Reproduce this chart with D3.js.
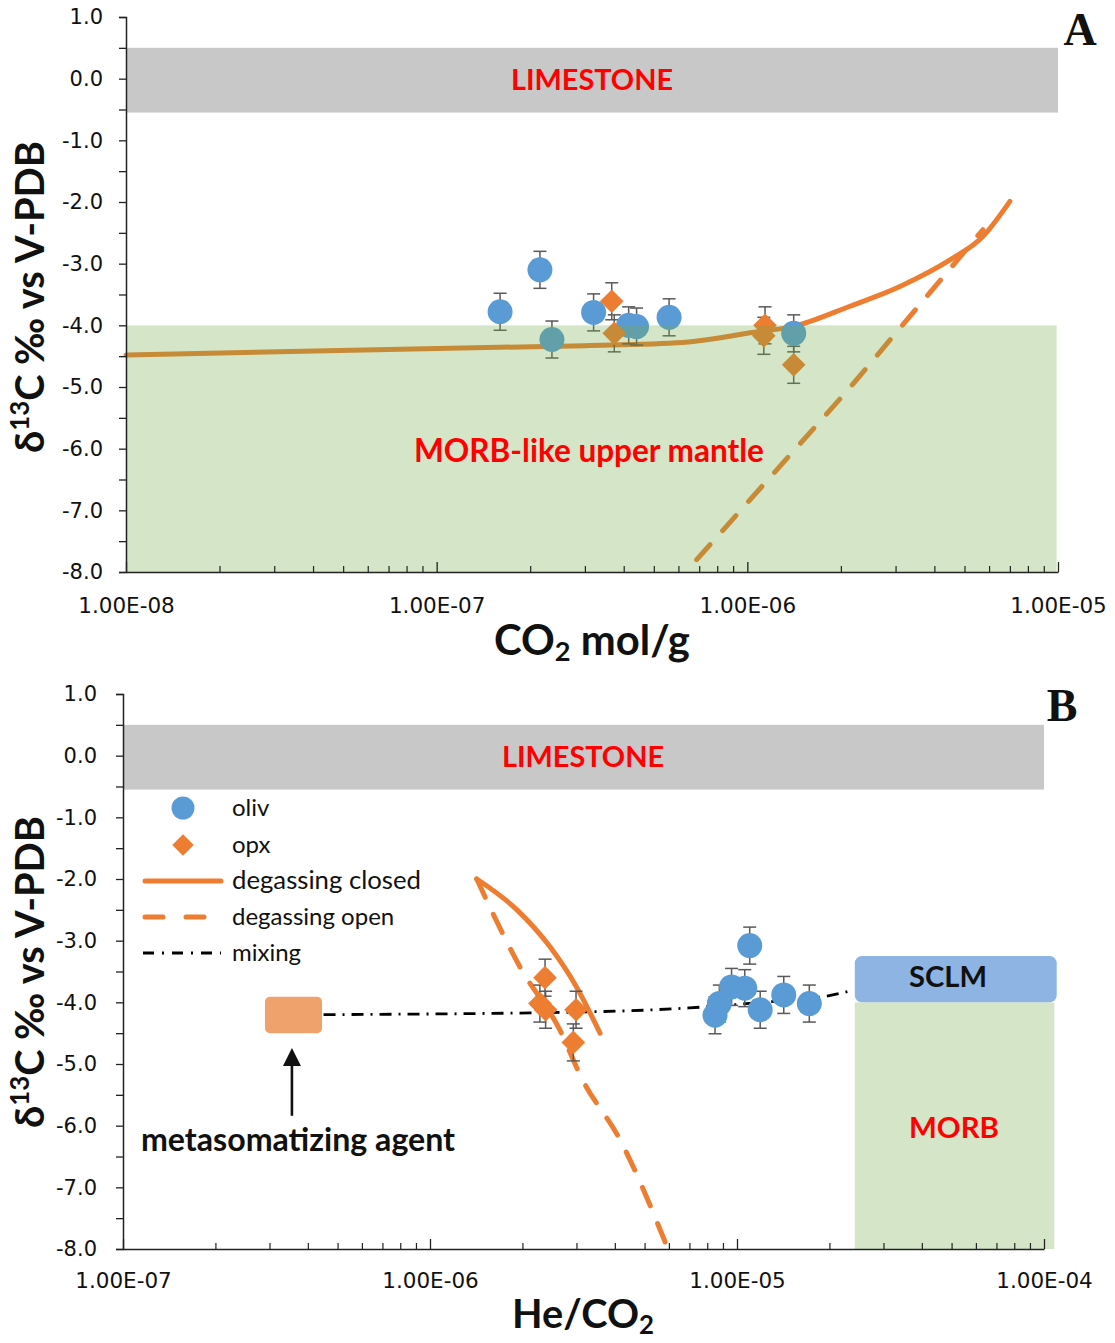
<!DOCTYPE html>
<html><head><meta charset="utf-8">
<script src="https://cdn.jsdelivr.net/npm/d3@7"></script>
<style>body{margin:0;background:#fff}</style>
</head><body>
<svg id="c" width="1115" height="1343" xmlns="http://www.w3.org/2000/svg"></svg>
<script>
// ---------- DATA ----------
const yTickValues = [1, 0, -1, -2, -3, -4, -5, -6, -7, -8];
const xTickLabelsA = [1e-8, 1e-7, 1e-6, 1e-5];
const xTickLabelsB = [1e-7, 1e-6, 1e-5, 1e-4];

// Panel A: CO2 (mol/g) vs d13C
const olivA_co2 = [1.6e-7, 2.15e-7, 2.35e-7, 3.2e-7, 4.15e-7, 4.4e-7, 5.6e-7, 1.41e-6];
const olivA_d13C = [-3.78, -3.10, -4.23, -3.79, -4.00, -4.02, -3.87, -4.13];
const olivA_err = [0.3, 0.3, 0.3, 0.3, 0.3, 0.3, 0.3, 0.3];
const opxA_co2 = [3.66e-7, 3.73e-7, 1.14e-6, 1.13e-6, 1.41e-6];
const opxA_d13C = [-3.61, -4.13, -4.00, -4.17, -4.64];
const opxA_err = [0.3, 0.3, 0.3, 0.3, 0.3];
const closedA_co2 = [1e-8, 1.1e-7, 3e-7, 6.2e-7, 8e-7, 1.02e-6, 1.4e-6, 2.14e-6, 3.1e-6, 4.49e-6, 5.73e-6, 7.0e-6];
const closedA_d13C = [-4.48, -4.37, -4.33, -4.28, -4.21, -4.12, -4.02, -3.69, -3.37, -2.94, -2.56, -1.99];
const openA_co2 = [6.87e-7, 2.09e-6, 5.73e-6];
const openA_d13C = [-7.80, -5.07, -2.45];

// Panel B: He/CO2 vs d13C
const olivB_he = [1.10e-5, 9.6e-6, 1.06e-5, 8.76e-6, 8.48e-6, 1.19e-5, 1.42e-5, 1.72e-5];
const olivB_d13C = [-3.08, -3.75, -3.77, -4.02, -4.21, -4.12, -3.88, -4.02];
const olivB_err = [0.3, 0.3, 0.3, 0.3, 0.3, 0.3, 0.3, 0.3];
const opxB_he = [2.37e-6, 2.28e-6, 2.38e-6, 2.99e-6, 2.93e-6];
const opxB_d13C = [-3.60, -4.02, -4.12, -4.12, -4.65];
const opxB_err = [0.3, 0.3, 0.3, 0.3, 0.3];
const closedB_he = [1.42e-6, 1.92e-6, 2.46e-6, 3.0e-6, 3.58e-6];
const closedB_d13C = [-2.0, -2.5, -3.1, -3.75, -4.5];
const openB_he = [1.42e-6, 1.61e-6, 1.96e-6, 2.65e-6, 3.12e-6, 4.16e-6, 5.96e-6];
const openB_d13C = [-2.0, -2.58, -3.42, -4.45, -5.23, -6.23, -8.0];
const mixB_he = [4.5e-7, 3.6e-6, 7.0e-6, 1.2e-5, 2.0e-5, 2.4e-5];
const mixB_d13C = [-4.2, -4.15, -4.09, -4.0, -3.89, -3.8];

// Fields (ranges)
const limestoneRange = [-0.55, 0.5];
const morbRange = [-8, -4];
const sclmRange = [-4.0, -3.25];
const sclmHe = [2.42e-5, 1.1e-4];
const morbHeB = [2.42e-5, 1.08e-4];
const agentHe = [2.9e-7, 4.45e-7];
const agentD13C = [-4.5, -3.91];

// ---------- STYLE ----------
const BLUE = "#5B9BD5", ORANGE = "#ED7D31", GREY = "#C8C8C8";
const GREEN = "#70AD47", RED = "#FF0000", ERR = "#595959";
const svg = d3.select("#c");

function fit(sel, w) {
  const bb = sel.node().getBBox();
  const fs = parseFloat(sel.attr("font-size"));
  sel.attr("font-size", fs * w / bb.width);
  return sel;
}
function sciFmt(d) {
  const e = Math.round(Math.log10(d));
  return "1.00E" + (e < 0 ? "-" : "+") + String(Math.abs(e)).padStart(2, "0");
}
function minorTicks(lo, hi) {
  const out = [];
  for (let d = lo; d < hi * 0.999; d *= 10) for (let k = 2; k <= 9; k++) out.push(k * d);
  return out;
}

function drawAxes(g, x, y, xLabels, yLabelPad, xLabelPad) {
  const [x0, x1] = x.range();
  const [yb, yt] = y.range();
  const ya = d3.axisLeft(y).tickValues(d3.range(-8, 1.01, 0.5))
    .tickSize(7).tickPadding(yLabelPad)
    .tickFormat(d => Number.isInteger(d) ? d.toFixed(1) : "");
  const yg = g.append("g").attr("transform", `translate(${x0},0)`).call(ya);
  yg.select(".domain").attr("stroke", "#222").attr("stroke-width", 1.5);
  yg.selectAll(".tick line").attr("stroke", "#222").attr("stroke-width", 1.3);
  yg.selectAll("text").attr("font-family", "DejaVu Sans").attr("font-size", 21).attr("fill", "#111");
  const xm = d3.axisBottom(x).tickValues(minorTicks(x.domain()[0], x.domain()[1])).tickSize(-6).tickFormat("");
  const xmg = g.append("g").attr("transform", `translate(0,${yb})`).call(xm);
  xmg.select(".domain").remove();
  xmg.selectAll(".tick line").attr("stroke", "#222").attr("stroke-width", 1.2);
  const xa = d3.axisBottom(x).tickValues(xLabels).tickSize(-10).tickSizeOuter(0).tickPadding(xLabelPad).tickFormat(sciFmt);
  const xg = g.append("g").attr("transform", `translate(0,${yb})`).call(xa);
  xg.select(".domain").attr("stroke", "#222").attr("stroke-width", 1.5);
  xg.selectAll(".tick line").attr("stroke", "#222").attr("stroke-width", 1.3);
  xg.selectAll("text").attr("font-family", "DejaVu Sans").attr("font-size", 21.5).attr("fill", "#111");
}

function errorBars(g, x, y, xs, ys, es) {
  const gg = g.append("g").attr("stroke", ERR).attr("stroke-width", 1.5);
  xs.forEach((xv, i) => {
    const cx = x(xv), t = y(ys[i] + es[i]), b = y(ys[i] - es[i]);
    gg.append("line").attr("x1", cx).attr("x2", cx).attr("y1", t).attr("y2", b);
    gg.append("line").attr("x1", cx - 6.5).attr("x2", cx + 6.5).attr("y1", t).attr("y2", t);
    gg.append("line").attr("x1", cx - 6.5).attr("x2", cx + 6.5).attr("y1", b).attr("y2", b);
  });
}
function circles(g, x, y, xs, ys) {
  g.append("g").selectAll("circle").data(xs).join("circle")
    .attr("cx", d => x(d)).attr("cy", (d, i) => y(ys[i])).attr("r", 12.5).attr("fill", BLUE);
}
const diamondPath = d3.symbol(d3.symbolSquare, 280)();
function diamonds(g, x, y, xs, ys) {
  g.append("g").selectAll("path").data(xs).join("path")
    .attr("d", diamondPath)
    .attr("transform", (d, i) => `translate(${x(d)},${y(ys[i])}) rotate(45)`)
    .attr("fill", ORANGE);
}
function pathLine(g, x, y, xs, ys, opts) {
  const pts = xs.map((v, i) => [v, ys[i]]);
  const line = d3.line().x(d => x(d[0])).y(d => y(d[1])).curve(opts.curve || d3.curveMonotoneX);
  const p = g.append("path").attr("d", line(pts)).attr("fill", "none")
    .attr("stroke", opts.color).attr("stroke-width", opts.width)
    .attr("stroke-linecap", opts.cap || "round");
  if (opts.dash) p.attr("stroke-dasharray", opts.dash);
  return p;
}
function yTitle(g, cx, cy, len) {
  const t = g.append("text").attr("font-family", "Lato").attr("font-weight", "bold")
    .attr("font-size", 32).attr("text-anchor", "middle").attr("fill", "#111")
    .attr("transform", `translate(${cx},${cy}) rotate(-90)`);
  t.append("tspan").text("δ");
  t.append("tspan").attr("baseline-shift", "super").attr("font-size", "65%").text("13");
  t.append("tspan").text("C ‰ vs V-PDB");
  fit(t, len);
}

// ================= PANEL A =================
{
  const g = svg.append("g");
  const x = d3.scaleLog().domain([1e-8, 1e-5]).range([126, 1058]);
  const y = d3.scaleLinear().domain([-8, 1]).range([572, 17]);
  g.append("rect").attr("x", x(1e-8)).attr("width", x(1e-5) - x(1e-8))
    .attr("y", y(limestoneRange[1])).attr("height", y(limestoneRange[0]) - y(limestoneRange[1])).attr("fill", GREY);
  pathLine(g, x, y, closedA_co2, closedA_d13C, { color: ORANGE, width: 5 });
  pathLine(g, x, y, openA_co2, openA_d13C, { color: ORANGE, width: 5, dash: "20,19", curve: d3.curveLinear });
  errorBars(g, x, y, olivA_co2, olivA_d13C, olivA_err);
  errorBars(g, x, y, opxA_co2, opxA_d13C, opxA_err);
  circles(g, x, y, olivA_co2, olivA_d13C);
  diamonds(g, x, y, opxA_co2, opxA_d13C);
  g.append("rect").attr("x", x(1e-8)).attr("width", x(9.9e-6) - x(1e-8))
    .attr("y", y(morbRange[1])).attr("height", y(morbRange[0]) - y(morbRange[1]))
    .attr("fill", GREEN).attr("fill-opacity", 0.3);
  const l1 = g.append("text").attr("x", 592).attr("y", 90).attr("text-anchor", "middle")
    .attr("font-family", "Lato").attr("font-weight", "bold").attr("font-size", 27).attr("fill", RED).text("LIMESTONE");
  fit(l1, 162);
  const l2 = g.append("text").attr("x", 589).attr("y", 462).attr("text-anchor", "middle")
    .attr("font-family", "Lato").attr("font-weight", "bold").attr("font-size", 28).attr("fill", RED).text("MORB-like upper mantle");
  fit(l2, 350);
  g.append("text").attr("x", 1080).attr("y", 45).attr("text-anchor", "middle")
    .attr("font-family", "Liberation Serif").attr("font-weight", "bold").attr("font-size", 46).attr("fill", "#111").text("A");
  drawAxes(g, x, y, xTickLabelsA, 16, 26);
  const xt = g.append("text").attr("x", 592).attr("y", 655).attr("text-anchor", "middle")
    .attr("font-family", "Lato").attr("font-weight", "bold").attr("font-size", 34).attr("fill", "#111");
  xt.append("tspan").text("CO");
  xt.append("tspan").attr("baseline-shift", "-22%").attr("font-size", "65%").text("2");
  xt.append("tspan").text(" mol/g");
  fit(xt, 196);
  yTitle(g, 44, 297, 312);
}

// ================= PANEL B =================
{
  const g = svg.append("g");
  const x = d3.scaleLog().domain([1e-7, 1e-4]).range([123, 1044]);
  const y = d3.scaleLinear().domain([-8, 1]).range([1249, 694]);
  g.append("rect").attr("x", x(1e-7)).attr("width", x(1e-4) - x(1e-7))
    .attr("y", y(limestoneRange[1])).attr("height", y(limestoneRange[0]) - y(limestoneRange[1])).attr("fill", GREY);
  g.append("rect").attr("x", x(morbHeB[0])).attr("width", x(morbHeB[1]) - x(morbHeB[0]))
    .attr("y", y(morbRange[1])).attr("height", y(morbRange[0]) - y(morbRange[1]))
    .attr("fill", GREEN).attr("fill-opacity", 0.3);
  g.append("rect").attr("x", x(sclmHe[0])).attr("width", x(sclmHe[1]) - x(sclmHe[0]))
    .attr("y", y(sclmRange[1])).attr("height", y(sclmRange[0]) - y(sclmRange[1]))
    .attr("rx", 7).attr("fill", "#8DB4E2");
  g.append("rect").attr("x", x(agentHe[0])).attr("width", x(agentHe[1]) - x(agentHe[0]))
    .attr("y", y(agentD13C[1])).attr("height", y(agentD13C[0]) - y(agentD13C[1]))
    .attr("rx", 5).attr("fill", "#F0A26C");
  pathLine(g, x, y, mixB_he, mixB_d13C, { color: "#000", width: 2.8, dash: "12,7,2,7", cap: "butt" });
  pathLine(g, x, y, closedB_he, closedB_d13C, { color: ORANGE, width: 5 });
  pathLine(g, x, y, openB_he, openB_d13C, { color: ORANGE, width: 5, dash: "20,19" });
  errorBars(g, x, y, olivB_he, olivB_d13C, olivB_err);
  errorBars(g, x, y, opxB_he, opxB_d13C, opxB_err);
  circles(g, x, y, olivB_he, olivB_d13C);
  diamonds(g, x, y, opxB_he, opxB_d13C);
  const l1 = g.append("text").attr("x", 583).attr("y", 767).attr("text-anchor", "middle")
    .attr("font-family", "Lato").attr("font-weight", "bold").attr("font-size", 27).attr("fill", RED).text("LIMESTONE");
  fit(l1, 162);
  const s = g.append("text").attr("x", 948).attr("y", 987).attr("text-anchor", "middle")
    .attr("font-family", "Lato").attr("font-weight", "bold").attr("font-size", 27).attr("fill", "#111").text("SCLM");
  fit(s, 78);
  const m = g.append("text").attr("x", 954).attr("y", 1138).attr("text-anchor", "middle")
    .attr("font-family", "Lato").attr("font-weight", "bold").attr("font-size", 28).attr("fill", RED).text("MORB");
  fit(m, 90);
  const a = g.append("text").attr("x", 298).attr("y", 1151).attr("text-anchor", "middle")
    .attr("font-family", "Lato").attr("font-weight", "bold").attr("font-size", 28).attr("fill", "#111").text("metasomatizing agent");
  fit(a, 315);
  const ax = x(3.55e-7), aTip = y(-4.74), aBot = y(-5.84);
  g.append("line").attr("x1", ax).attr("x2", ax).attr("y1", aBot).attr("y2", aTip + 16)
    .attr("stroke", "#111").attr("stroke-width", 2.6);
  g.append("path").attr("d", `M${ax},${aTip} L${ax - 9},${aTip + 18} L${ax + 9},${aTip + 18} Z`).attr("fill", "#111");
  g.append("text").attr("x", 1062).attr("y", 721).attr("text-anchor", "middle")
    .attr("font-family", "Liberation Serif").attr("font-weight", "bold").attr("font-size", 46).attr("fill", "#111").text("B");
  // legend
  const lg = g.append("g");
  const items = ["oliv", "opx", "degassing closed", "degassing open", "mixing"];
  const ly = [808, 845, 881, 917, 953];
  lg.append("circle").attr("cx", 183).attr("cy", ly[0]).attr("r", 11.5).attr("fill", BLUE);
  lg.append("path").attr("d", d3.symbol(d3.symbolSquare, 230)()).attr("transform", `translate(183,${ly[1]}) rotate(45)`).attr("fill", ORANGE);
  lg.append("line").attr("x1", 145).attr("x2", 221).attr("y1", ly[2]).attr("y2", ly[2]).attr("stroke", ORANGE).attr("stroke-width", 5).attr("stroke-linecap", "round");
  lg.append("line").attr("x1", 145).attr("x2", 221).attr("y1", ly[3]).attr("y2", ly[3]).attr("stroke", ORANGE).attr("stroke-width", 5).attr("stroke-linecap", "round").attr("stroke-dasharray", "18,23");
  lg.append("line").attr("x1", 143).attr("x2", 221).attr("y1", ly[4]).attr("y2", ly[4]).attr("stroke", "#000").attr("stroke-width", 2.8).attr("stroke-dasharray", "11,8,2,8");
  items.forEach((t, i) => {
    const tx = lg.append("text").attr("x", 232).attr("y", ly[i] + 8).attr("font-family", "Lato")
      .attr("font-size", 24).attr("fill", "#111").text(t);
    if (t === "degassing closed") fit(tx, 189);
  });
  drawAxes(g, x, y, xTickLabelsB, 19, 24);
  const xt = g.append("text").attr("x", 583).attr("y", 1328).attr("text-anchor", "middle")
    .attr("font-family", "Lato").attr("font-weight", "bold").attr("font-size", 34).attr("fill", "#111");
  xt.append("tspan").text("He/CO");
  xt.append("tspan").attr("baseline-shift", "-22%").attr("font-size", "65%").text("2");
  fit(xt, 142);
  yTitle(g, 44, 972, 312);
}
</script>
</body></html>
